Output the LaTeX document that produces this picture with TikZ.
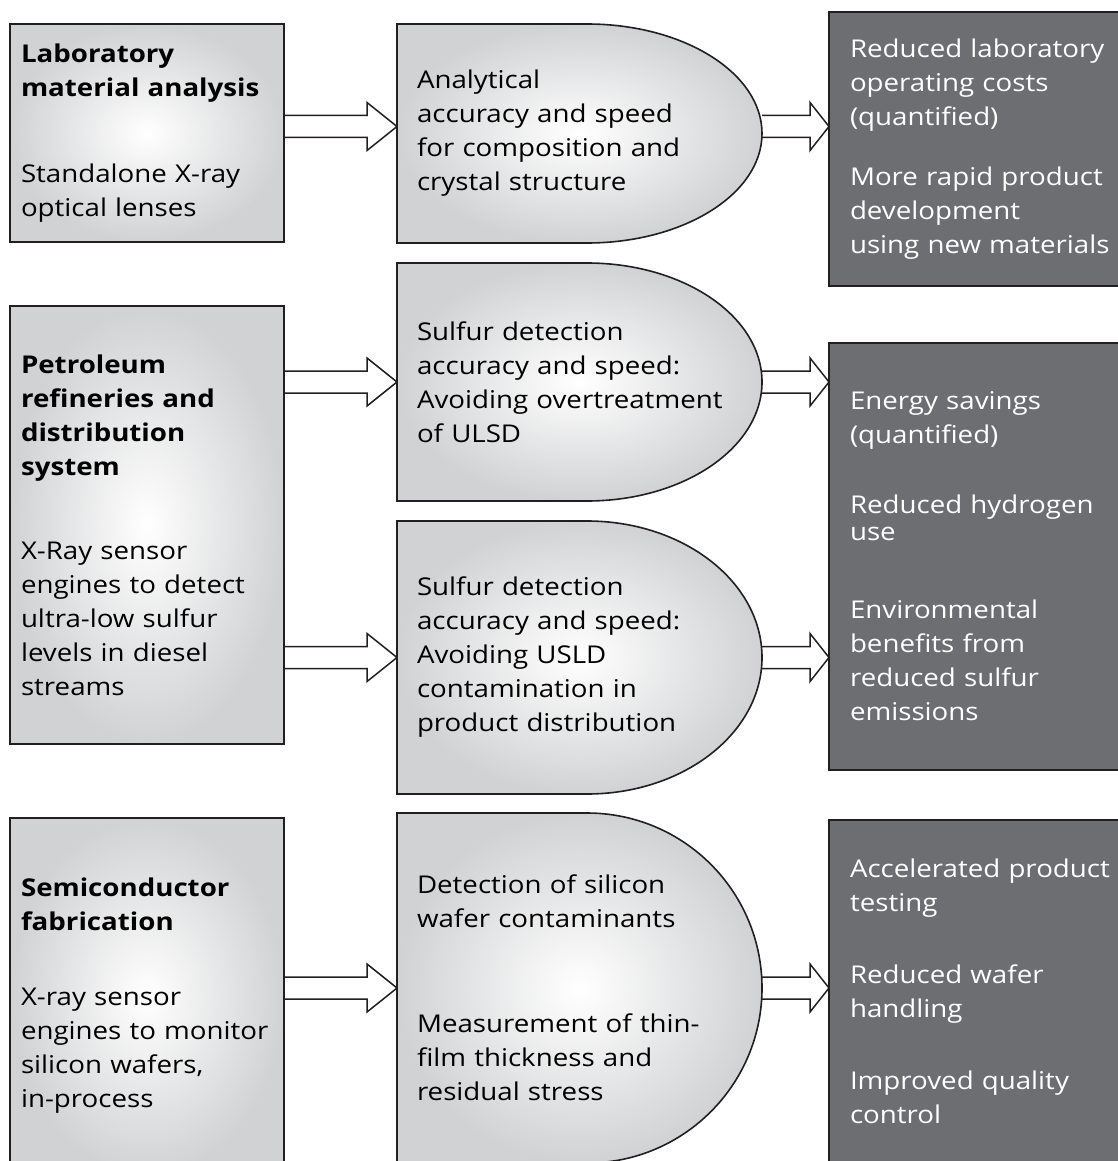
\documentclass[tikz,border=0pt]{standalone}
\usepackage{fontspec}
\setmainfont{Open Sans}[FakeStretch=1.13]
\usetikzlibrary{positioning, calc, backgrounds}

\definecolor{panelgray}{HTML}{D1D2D4}
\definecolor{resultgray}{HTML}{6D6E71}
\definecolor{edgedark}{HTML}{231F20}

% hollow block arrow: along the y of #1, from the x of #1 to the x of #2, head length #3
\newcommand{\flowarrow}[3]{%
  \path[flow] let \p1=#1, \p2=#2 in
    (\x1,\y1+11pt) -- (\x2-#3,\y1+11pt) -- (\x2-#3,\y1+24pt) -- (\x2,\y1)
    -- (\x2-#3,\y1-24pt) -- (\x2-#3,\y1-11pt) -- (\x1,\y1-11pt);}

\begin{document}
\begin{tikzpicture}[x=1pt, y=1pt,
  every node/.style={font=\fontsize{24.5}{34}\selectfont, outer sep=0pt},
  sourcebox/.style={draw=edgedark, line width=1.6pt, shade, inner color=white,
    outer color=panelgray, anchor=north west, text width=252pt, inner xsep=11pt, align=left},
  midtext/.style={anchor=north west, text width=325pt, inner xsep=20pt, align=left},
  resultbox/.style={draw=edgedark, line width=1.6pt, fill=resultgray, text=white,
    anchor=north west, text width=268pt, inner xsep=21pt, align=left},
  dshape/.style={draw=edgedark, line width=1.6pt, shade, inner color=white, outer color=panelgray},
  flow/.style={draw=edgedark, fill=white, line width=1.5pt, line join=miter}]
   \useasboundingbox (0,0) rectangle (1117,-1161);

   % Application areas
   \node[sourcebox, minimum height=218pt] (lab) at (10,-24)
     {{\bfseries Laboratory\\ material analysis}\\[52pt] Standalone X-ray\\ optical lenses};
   \node[sourcebox, minimum height=438pt] (pet) at (10,-306)
     {{\bfseries Petroleum\\ refineries and\\ distribution\\ system}\\[50pt] X-Ray sensor\\ engines to detect\\ ultra-low sulfur\\ levels in diesel\\ streams};
   \node[sourcebox, minimum height=356pt] (semi) at (10,-818)
     {{\bfseries Semiconductor\\ fabrication}\\[41pt] X-ray sensor\\ engines to monitor\\ silicon wafers,\\ in-process};

   % Capabilities (outlines are drawn behind)
   \node[midtext, minimum height=219pt] (ana) at (397,-24)
     {Analytical\\ accuracy and speed\\ for composition and\\ crystal structure};
   \node[midtext, minimum height=238pt] (ulsd) [below=20pt of ana]
     {Sulfur detection\\ accuracy and speed:\\ Avoiding overtreatment\\ of ULSD};
   \node[midtext, minimum height=273pt] (dist) [below=20pt of ulsd]
     {Sulfur detection\\ accuracy and speed:\\ Avoiding USLD\\ contamination in\\ product distribution};
   \node[midtext, minimum height=350pt] (wafer) [below=19pt of dist]
     {Detection of silicon\\ wafer contaminants\\[71pt] Measurement of thin-\\ film thickness and\\ residual stress};

   % Benefits
   \node[resultbox, minimum height=274pt] (cost) at (829,-12)
     {Reduced laboratory\\ operating costs\\ (quantified)\\[26pt] More rapid product\\ development\\ using new materials};
   \node[resultbox, minimum height=427pt] (energy) at (829,-343)
     {Energy savings\\ (quantified)\\[36pt] Reduced hydrogen\\[-7pt] use\\[44pt] Environmental\\ benefits from\\ reduced sulfur\\ emissions};
   \node[resultbox, minimum height=343pt] (test) at (829,-820)
     {Accelerated product\\ testing\\[38pt] Reduced wafer\\ handling\\[38pt] Improved quality\\ control};

   \begin{scope}[on background layer]
    % Transitions
    \flowarrow{($(lab.east |- ana.west)+(0,7)$)}{(ana.west)}{30pt}
    \flowarrow{(pet.east |- ulsd.west)}{(ulsd.west)}{30pt}
    \flowarrow{(pet.east |- dist.west)}{(dist.west)}{30pt}
    \flowarrow{(semi.east |- wafer.west)}{(wafer.west)}{30pt}
    \flowarrow{($(ana.east)+(0,7)$)}{(cost.west)}{19pt}
    \flowarrow{(ulsd.east)}{(energy.west)}{19pt}
    \flowarrow{(dist.east)}{(energy.west)}{19pt}
    \flowarrow{(wafer.east)}{(test.west)}{19pt}

    % D-shaped outlines
    \foreach \shp in {ana, ulsd, dist, wafer}
      \path[dshape] let \p1=(\shp.north west), \p2=(\shp.south east) in
        (\p1) -- (\x2-175pt,\y1)
        arc[start angle=90, end angle=-90, x radius=175pt, y radius={(\y1-\y2)/2}]
        -- (\x1,\y2) -- cycle;
   \end{scope}
\end{tikzpicture}
\end{document}
